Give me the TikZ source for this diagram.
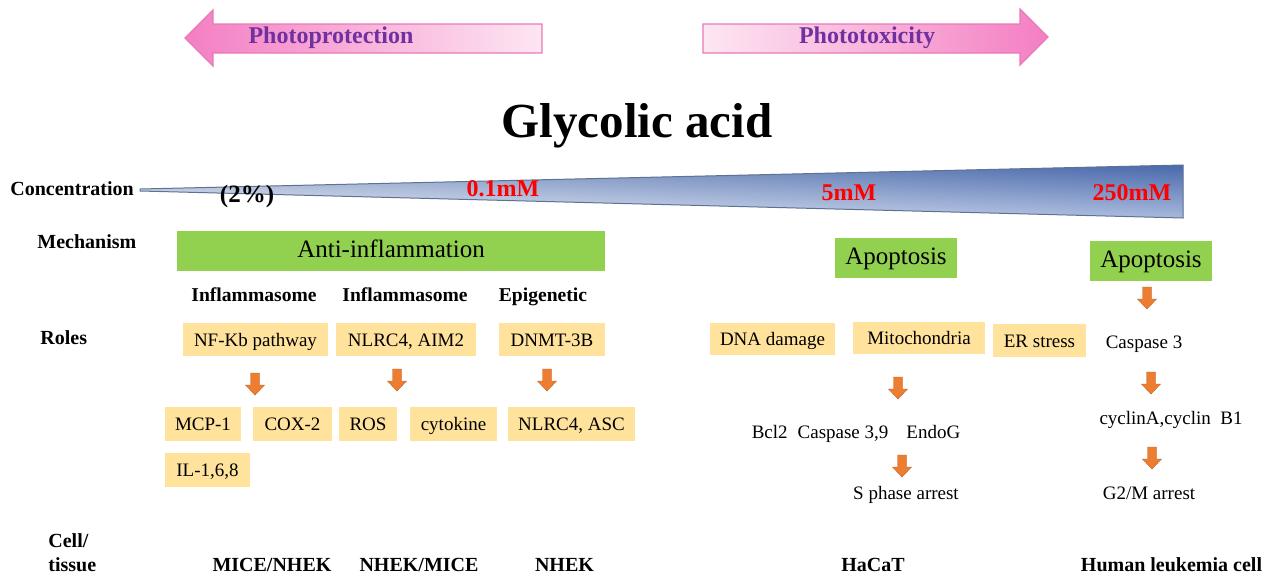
\documentclass[tikz,border=0pt]{standalone}
\usepackage{fontspec}
\setmainfont{Liberation Serif}
\definecolor{pinkd}{HTML}{F47EC3}
\definecolor{pinkl}{HTML}{FDE6F2}
\definecolor{pinkb}{HTML}{E87AB8}
\definecolor{purp}{HTML}{7030A0}
\definecolor{wedgel}{HTML}{EEF3FA}
\definecolor{wedgem}{HTML}{C3D3EC}
\definecolor{wedger}{HTML}{5F7FC0}
\definecolor{wedgetop}{HTML}{2F4F94}
\definecolor{wedgeb}{HTML}{5E7292}
\definecolor{grn}{HTML}{92D050}
\definecolor{ylw}{HTML}{FFE29C}
\definecolor{orng}{HTML}{ED7D31}
\definecolor{redc}{HTML}{FF0000}
\begin{document}
\begin{tikzpicture}[x=0.5pt,y=-0.5pt,
  lbl/.style={font=\fontsize{10}{12}\selectfont\bfseries, inner sep=0pt, anchor=base west},
  hdr/.style={font=\fontsize{9.8}{12}\selectfont\bfseries, inner sep=0pt, anchor=base},
  conc/.style={font=\fontsize{12}{14}\selectfont\bfseries, text=redc, inner sep=0pt, anchor=base},
  photo/.style={font=\fontsize{12}{14}\selectfont\bfseries, text=purp, inner sep=0pt},
  gbox/.style={fill=grn, inner sep=0pt, minimum height=20pt, text height=0.66em, text depth=0pt, font=\fontsize{12.5}{14}\selectfont},
  ybox/.style={fill=ylw, inner sep=0pt, minimum height=16.5pt, text height=0.66em, text depth=0pt, font=\fontsize{9.5}{11}\selectfont},
  plain/.style={inner sep=0pt, anchor=base, font=\fontsize{9.5}{11}\selectfont},
  cell/.style={font=\fontsize{10}{12}\selectfont\bfseries, inner sep=0pt, anchor=base},
  pics/downarr/.style={code={\filldraw[fill=orng, draw=orng!80!black, line width=0.2pt] (-4.5,0) -- (4.5,0) -- (4.5,12) -- (9.5,12) -- (0,22) -- (-9.5,12) -- (-4.5,12) -- cycle;}}
]
\path[fill=white] (0,0) rectangle (1270,585);
\useasboundingbox (0,0) rectangle (1270,585);

% top arrows
\path[draw=pinkb, line width=0.6pt, left color=pinkd, right color=pinkl]
  (185,38) -- (213,10) -- (213,24) -- (542,24) -- (542,53) -- (213,53) -- (213,66) -- cycle;
\path[draw=pinkb, line width=0.6pt, left color=pinkl, right color=pinkd]
  (703,24) -- (1020,24) -- (1020,9) -- (1048,37) -- (1020,65) -- (1020,53) -- (703,53) -- cycle;
\node[photo] (pp) at (331,38) {Photoprotection};
\node[photo] (pt) at (867,38) {Phototoxicity};

\node[font=\fontsize{24.5}{28}\selectfont\bfseries, anchor=base, inner sep=0pt] (title) at (637,137) {Glycolic acid};

% wedge
\shade[left color=wedgel, middle color=wedgem, right color=wedger] (140,189) -- (1183,165) -- (1183,218) -- (140,191) -- cycle;
\shade[top color=wedgetop, bottom color=white, opacity=0.45] (140,189) -- (1183,165) -- (1183,218) -- (140,191) -- cycle;
\draw[wedgeb, line width=0.5pt] (140,189) -- (1183,165) -- (1183,218) -- (140,191) -- cycle;

% row labels
\node[lbl] (lconc) at (10,195) {Concentration};
\node[lbl] (lmech) at (37,248) {Mechanism};
\node[lbl] (lroles) at (40,344) {Roles};
\node[lbl] (lcell) at (48,547) {Cell/};
\node[lbl] (ltis) at (48,571) {tissue};

% concentrations
\node[font=\fontsize{12.5}{14}\selectfont\bfseries, anchor=base, inner sep=0pt] (c2) at (247,202) {(2\%)};
\node[conc] (c01) at (503,196) {0.1mM};
\node[conc] (c5) at (849,200) {5mM};
\node[conc] (c250) at (1132,200) {250mM};

% mechanisms
\node[gbox, minimum width=214pt] (anti) at (391,251) {Anti-inflammation};
\node[gbox, minimum width=61pt] (apo1) at (896,258) {Apoptosis};
\node[gbox, minimum width=61pt] (apo2) at (1151,261) {Apoptosis};

% headers
\node[hdr] (h1) at (254,301) {Inflammasome};
\node[hdr] (h2) at (405,301) {Inflammasome};
\node[hdr] (h3) at (543,301) {Epigenetic};

% yellow boxes
\node[ybox, minimum width=72.5pt] (nfkb) at (255.5,339.5) {NF-Kb pathway};
\node[ybox, minimum width=70pt] (nlrc) at (406,339.5) {NLRC4, AIM2};
\node[ybox, minimum width=53pt] (dnmt) at (552,339.5) {DNMT-3B};
\node[ybox, minimum width=38pt, minimum height=17pt] (mcp) at (203,424) {MCP-1};
\node[ybox, minimum width=39.5pt, minimum height=17pt] (cox) at (292.5,424) {COX-2};
\node[ybox, minimum width=29pt, minimum height=17pt] (ros) at (368,424) {ROS};
\node[ybox, minimum width=43.5pt, minimum height=17pt] (cyto) at (453.5,424) {cytokine};
\node[ybox, minimum width=63.5pt, minimum height=17pt] (nlrcasc) at (571.5,424) {NLRC4, ASC};
\node[ybox, minimum width=42.5pt, minimum height=17pt] (il) at (207.5,470) {IL-1,6,8};
\node[ybox, minimum width=62.5pt, minimum height=16pt] (dna) at (772.5,339) {DNA damage};
\node[ybox, minimum width=66pt, minimum height=16pt] (mito) at (919,338) {Mitochondria};
\node[ybox, minimum width=46.5pt] (er) at (1039.5,340.5) {ER stress};

% plain texts
\node[plain] (casp3) at (1144,348) {Caspase 3};
\node[plain] (cyc) at (1171,424) {cyclinA,cyclin~ B1};
\node[plain] (g2m) at (1149,499) {G2/M arrest};
\node[plain] (bcl) at (856,438) {Bcl2\hspace{5pt}Caspase 3,9\hspace{9pt}EndoG};
\node[plain] (sph) at (906,499) {S phase arrest};

% orange arrows
\pic (ar1) at (255,373) {downarr};
\pic (ar2) at (397,369) {downarr};
\pic (ar3) at (547,369) {downarr};
\pic (ar4) at (898,377) {downarr};
\pic (ar5) at (902,455) {downarr};
\pic (ar6) at (1147,287) {downarr};
\pic (ar7) at (1151,372) {downarr};
\pic (ar8) at (1152,447) {downarr};

% cells
\node[cell] (t1) at (272,571) {MICE/NHEK};
\node[cell] (t2) at (419,571) {NHEK/MICE};
\node[cell] (t3) at (564.5,571) {NHEK};
\node[cell] (t4) at (873,571) {HaCaT};
\node[cell] (t5) at (1171.5,571) {Human leukemia cell};
\end{tikzpicture}
\end{document}
